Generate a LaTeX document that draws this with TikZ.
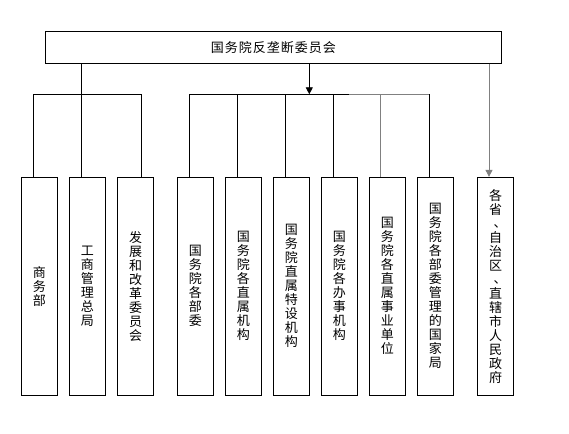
\documentclass[tikz,border=0pt]{standalone}
\usepackage{fontspec}
\newfontfamily\cjk{Noto Sans CJK SC}
\usetikzlibrary{arrows.meta}
\newcommand\vdun{\makebox[13pt][l]{\hspace{4.5pt}\raisebox{1pt}{、}}}
\begin{document}
\begin{tikzpicture}[x=1pt,y=-1pt,
  boxnode/.style={draw,line width=0.9pt,minimum width=36pt,minimum height=218pt,inner sep=0pt,align=center,font=\cjk\fontsize{13}{14}\selectfont},
  conn/.style={line width=0.9pt},
  grayconn/.style={line width=0.9pt,draw=black!50},
  tip/.style={-{Triangle[length=7pt,width=7pt]}}]
\useasboundingbox (0,0) rectangle (569,433);
\node[draw,line width=0.9pt,minimum width=456pt,minimum height=32pt,inner sep=0pt,font=\cjk\fontsize{13}{14}\selectfont] (top) at (273.3,47.3) {国\kern1pt务\kern1pt院\kern1pt反\kern1pt垄\kern1pt断\kern1pt委\kern1pt员\kern1pt会};
\node[boxnode] (b1) at (39.3,286.3) {商\\务\\部};
\node[boxnode] (b2) at (87.3,286.3) {工\\商\\管\\理\\总\\局};
\node[boxnode] (b3) at (135.5,286.3) {发\\展\\和\\改\\革\\委\\员\\会};
\node[boxnode] (b4) at (195.3,286.3) {国\\务\\院\\各\\部\\委};
\node[boxnode] (b5) at (243.3,286.3) {国\\务\\院\\各\\直\\属\\机\\构};
\node[boxnode] (b6) at (291.3,286.3) {国\\务\\院\\直\\属\\特\\设\\机\\构};
\node[boxnode] (b7) at (339.3,286.3) {国\\务\\院\\各\\办\\事\\机\\构};
\node[boxnode] (b8) at (387.3,286.3) {国\\务\\院\\各\\直\\属\\事\\业\\单\\位};
\node[boxnode] (b9) at (435.3,286.3) {国\\务\\院\\各\\部\\委\\管\\理\\的\\国\\家\\局};
\node[boxnode] (b10) at (495.5,286.3) {各\\省\\\vdun\\自\\治\\区\\\vdun\\直\\辖\\市\\人\\民\\政\\府};
% left group
\coordinate (l1) at (33.3,94.3);
\coordinate (l2) at (81.3,94.3);
\coordinate (l3) at (141.3,94.3);
\draw[conn] (l1) -- (l3);
\draw[conn] (top.south -| l2) -- (l2 |- b2.north);
\draw[conn] (l1) -- (l1 |- b1.north);
\draw[conn] (l3) -- (l3 |- b3.north);
% middle group
\coordinate (m0) at (309.3,94.3);
\coordinate (m1) at (189.3,94.3);
\coordinate (m2) at (237.3,94.3);
\coordinate (m3) at (285.3,94.3);
\coordinate (m4) at (333.3,94.3);
\coordinate (mg) at (349.3,94.3);
\coordinate (m5) at (380.7,94.3);
\coordinate (m6) at (429.3,94.3);
\draw[conn,tip] (top.south -| m0) -- (m0);
\draw[conn] (m1) -- (mg);
\draw[grayconn] (mg) -- (m6);
\draw[conn] (m1) -- (m1 |- b4.north);
\draw[conn] (m2) -- (m2 |- b5.north);
\draw[conn] (m3) -- (m3 |- b6.north);
\draw[conn] (m4) -- (m4 |- b7.north);
\draw[grayconn] (m5) -- (m5 |- b8.north);
\draw[conn] (m6) -- (m6 |- b9.north);
% right
\coordinate (r) at (489,94.3);
\draw[grayconn,tip] (top.south -| r) -- (r |- b10.north);
\end{tikzpicture}
\end{document}
